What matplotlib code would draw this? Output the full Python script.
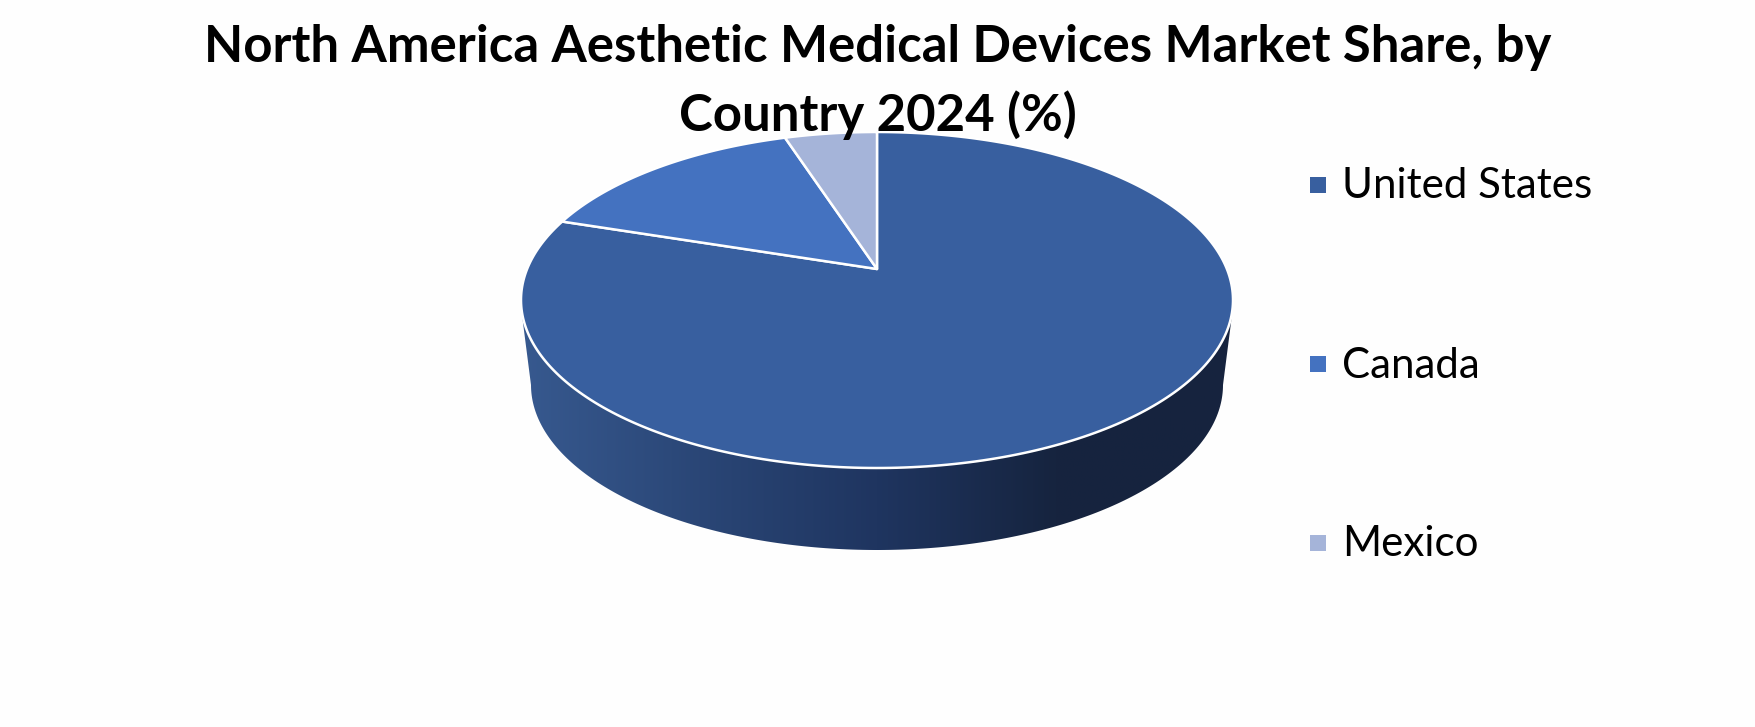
import matplotlib
matplotlib.use("Agg")
import matplotlib.pyplot as plt
from matplotlib.colors import LinearSegmentedColormap
from matplotlib.patches import Polygon, Rectangle
import numpy as np

countries = ["United States", "Canada", "Mexico"]
shares = [80, 15, 5]
title_lines = ["North America Aesthetic Medical Devices Market Share, by", "Country 2024 (%)"]

#-colors-------------------------------------------
colors = ["#385f9f", "#4472c0", "#a5b4d9"]
side_colors = ["#37598f", "#2a4676", "#1f3560", "#16243f", "#16233e"]
#--------------------------------------------------

plt.rcParams["font.family"] = ["Lato", "DejaVu Sans"]

# top face, pixels
cx, cy = 877, 300
rx, ry = 356, 168
hub_shift = 31  # hub sits above the ellipse centre (perspective)
k = hub_shift / ry
ax_r = rx * np.sqrt(1 - k ** 2)

# bottom rim of the side wall
low_cy, low_rx, low_ry = 385, 346, 165


def project(theta):
    X, Y = np.cos(theta), np.sin(theta)
    w = 1 + k * Y
    return cx + ax_r * X / w, cy - (ry * Y + hub_shift) / w


fig = plt.figure(figsize=(17.56, 7.27), dpi=100, facecolor="#fefefe")
ax = fig.add_axes([0, 0, 1, 1])
ax.set_xlim(0, 1756)
ax.set_ylim(727, 0)
ax.axis("off")

# side wall
t = np.linspace(np.pi, 0, 200)
low_x = cx + low_rx * np.cos(t)
low_y = low_cy + low_ry * np.sin(t)
wall = np.column_stack([
    np.r_[cx - rx + 1, low_x, cx + rx - 1],
    np.r_[cy + 15, low_y, cy + 15],
])
patch = Polygon(wall, closed=True, fc="none", ec="none")
ax.add_patch(patch)
cmap = LinearSegmentedColormap.from_list("side", side_colors)
im = ax.imshow(np.linspace(0, 1, 256)[None, :], cmap=cmap, aspect="auto",
               extent=(cx - rx, cx + rx, 560, 300), zorder=1)
im.set_clip_path(patch)
ax.set_xlim(0, 1756)
ax.set_ylim(727, 0)

# top face
start = np.pi / 2
for share, color in zip(shares, colors):
    sweep = 2 * np.pi * share / sum(shares)
    theta = np.linspace(start, start - sweep, 300)
    x, y = project(theta)
    ax.fill(np.r_[cx, x], np.r_[cy - hub_shift, y], fc=color, ec="white",
            lw=1.8, joinstyle="round", zorder=2)
    start -= sweep

# legend
legend_y = [185, 364, 543]
for name, color, ly in zip(countries, colors, legend_y):
    ax.add_patch(Rectangle((1310, ly - 8), 16, 16, fc=color, ec="none", zorder=3))
    ax.text(1342, ly - 2, name, fontsize=30.3, color="black", va="center_baseline", ha="left", zorder=3)

ax.text(878, 43, title_lines[0], fontsize=36.6, fontweight="bold", color="black",
        ha="center", va="center_baseline", zorder=4)
ax.text(878, 111, title_lines[1], fontsize=36.6, fontweight="bold", color="black",
        ha="center", va="center_baseline", zorder=4)

fig.savefig("out.png", dpi=100, facecolor=fig.get_facecolor())
